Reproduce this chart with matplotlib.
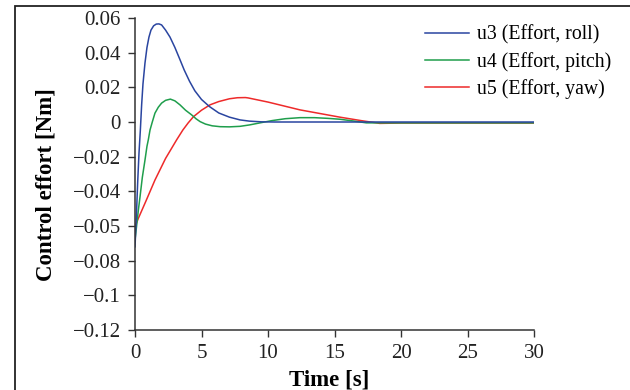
import matplotlib
matplotlib.use('Agg')
import matplotlib.pyplot as plt
from matplotlib.patches import Rectangle

# values
t_u3 = [0, 0.1, 0.2, 0.3, 0.4, 0.5, 0.6, 0.75, 0.9, 1.05, 1.2, 1.4, 1.6, 1.8, 2.0, 2.3, 2.63, 3.0, 3.38,
        3.7, 4.1, 4.5, 5.0, 5.6, 6.3, 7.1, 7.9, 8.6, 9.5, 10.5, 15, 20, 25, 30]
u3 = [-0.072, -0.055, -0.035, -0.018, -0.005, 0.010, 0.022, 0.034, 0.043, 0.049, 0.053, 0.0555, 0.0565,
      0.0566, 0.056, 0.053, 0.049, 0.043, 0.036, 0.030, 0.0235, 0.018, 0.013, 0.0089, 0.0052, 0.0028,
      0.0012, 0.0005, 0.0001, 0.0, 0.0, 0.0, 0.0, 0.0]

t_u4 = [0, 0.12, 0.25, 0.38, 0.55, 0.75, 0.9, 1.0, 1.13, 1.3, 1.5, 1.75, 2.0, 2.3, 2.66, 3.0, 3.38, 3.8,
        4.26, 4.6, 4.9, 5.3, 5.8, 6.4, 7.1, 7.9, 8.6, 9.4, 10.3, 11.3, 12.4, 13.5, 14.5, 15.4, 16.4, 17.4,
        20, 25, 30]
u4 = [-0.068, -0.060, -0.051, -0.043, -0.032, -0.022, -0.014, -0.0103, -0.0046, 0.0, 0.0051, 0.0085,
      0.0109, 0.0125, 0.0132, 0.0122, 0.0099, 0.0068, 0.0041, 0.0018, 0.0002, -0.0012, -0.0022, -0.0027,
      -0.0028, -0.0025, -0.0017, -0.0005, 0.0008, 0.0019, 0.0025, 0.0025, 0.0021, 0.0016, 0.0006, -0.0005,
      -0.0005, -0.0005, -0.0005]

t_u5 = [0, 0.25, 0.8, 1.5, 2.3, 3.13, 3.6, 4.0, 4.4, 5.0, 5.64, 6.3, 7.1, 7.7, 8.3, 8.5, 10, 12.4, 15.4,
        17, 18.4, 20, 25, 30]
u5 = [-0.0605, -0.0556, -0.046, -0.0335, -0.021, -0.0103, -0.0046, -0.0005, 0.0031, 0.0068, 0.0099,
      0.0118, 0.0134, 0.0140, 0.0141, 0.0139, 0.0115, 0.007, 0.0028, 0.0008, -0.0008, -0.0006, -0.0006,
      -0.0006]

labels = ['u3 (Effort, roll)', 'u4 (Effort, pitch)', 'u5 (Effort, yaw)']
colors = ['#2a45a0', '#1f9e4c', '#ee2a2a']

y_ticks = [0.06, 0.04, 0.02, 0, -0.02, -0.04, -0.06, -0.08, -0.1, -0.12]
y_tick_labels = ['0.06', '0.04', '0.02', '0', '\u22120.02', '\u22120.04', '\u22120.05', '\u22120.08', '\u22120.1', '\u22120.12']
x_ticks = [0, 5, 10, 15, 20, 25, 30]

plt.rcParams['font.family'] = ['Liberation Serif', 'DejaVu Serif']

fig = plt.figure(figsize=(6.3, 3.9), dpi=100)
ax = fig.add_axes([135 / 630, 1 - 330 / 390, (534 - 135) / 630, (330 - 18) / 390])

# blue is drawn on top of the others in the reference
l5, = ax.plot(t_u5, u5, color=colors[2], lw=1.1)
l4, = ax.plot(t_u4, u4, color=colors[1], lw=1.1)
l3, = ax.plot(t_u3, u3, color=colors[0], lw=1.1)

ax.set_xlim(0, 30)
ax.set_ylim(-0.12, 0.06)
ax.set_xticks(x_ticks)
ax.set_yticks(y_ticks)
ax.set_yticklabels(y_tick_labels)
ax.tick_params(direction='out', length=5, width=1, colors='#333333', labelcolor='#222222', labelsize=15)
ax.tick_params(axis='x', pad=5)
ax.tick_params(axis='y', pad=5)

for side in ['top', 'right']:
    ax.spines[side].set_visible(False)
for side in ['left', 'bottom']:
    ax.spines[side].set_color('#333333')
    ax.spines[side].set_linewidth(1.1)

ax.set_xlabel('Time [s]', fontsize=16.5, fontweight='bold')
ax.set_ylabel('Control effort [Nm]', fontsize=16.5, fontweight='bold')
ax.xaxis.set_label_coords(0.4875, -0.128)
ax.yaxis.set_label_coords(-0.197, 0.466)

fig.legend([l3, l4, l5], labels, loc='upper left', bbox_to_anchor=(425 / 630, 1 - 25 / 390),
           frameon=False, fontsize=14.2, handlelength=2.25, handletextpad=0.4,
           labelspacing=0.38, borderpad=0, borderaxespad=0)

# outer frame around the figure
fig.patches.append(Rectangle((15 / 630, -0.1), 1.2, 1.1 - 6 / 390, transform=fig.transFigure,
                             fill=False, edgecolor='#222222', linewidth=1.3))

fig.savefig('out.png', dpi=100)
